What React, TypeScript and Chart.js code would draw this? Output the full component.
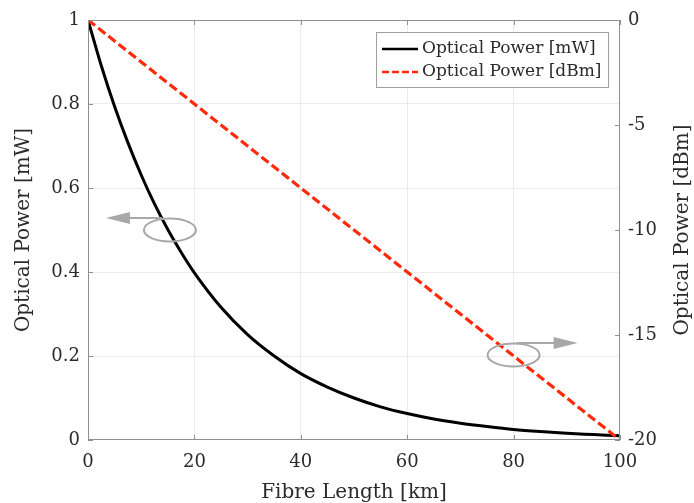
import React, { useEffect, useRef } from "react";
import { Chart, registerables } from "chart.js";

Chart.register(...registerables);

// ---- data ----
const lengthKm = [0, 2.5, 5, 7.5, 10, 12.5, 15, 17.5, 20, 25, 30, 35, 40, 45, 50, 55, 60, 65, 70, 75, 80, 85, 90, 95, 100];
const powerMw = [1.0, 0.891, 0.794, 0.708, 0.631, 0.562, 0.501, 0.447, 0.398, 0.316, 0.251, 0.2, 0.158, 0.126, 0.1, 0.079, 0.063, 0.05, 0.04, 0.032, 0.025, 0.02, 0.016, 0.013, 0.01];
const powerDbm = [0, -0.5, -1, -1.5, -2, -2.5, -3, -3.5, -4, -5, -6, -7, -8, -9, -10, -11, -12, -13, -14, -15, -16, -17, -18, -19, -20];
const xTicksKm = [0, 20, 40, 60, 80, 100];
const leftTicksMw = [0, 0.2, 0.4, 0.6, 0.8, 1];
const rightTicksDbm = [-20, -15, -10, -5, 0];
const labelMw = "Optical Power [mW]";
const labelDbm = "Optical Power [dBm]";
const labelX = "Fibre Length [km]";

const FONT = "'DejaVu Serif', serif";
const TEXT = "#2b2b2b";
const AXIS = "#8f8f8f";
const GRID = "#ebebeb";
const RED = "#ff2a0a";
const ANN = "#a8a8a8";

const decorPlugin = {
  id: "decor",
  afterDatasetsDraw(chart: any) {
    const ctx = chart.ctx;
    const { left, right, top, bottom } = chart.chartArea;
    const xs = chart.scales.x;
    const yl = chart.scales.y;
    const yr = chart.scales.y1;
    ctx.save();
    // box
    ctx.strokeStyle = AXIS;
    ctx.lineWidth = 1;
    ctx.strokeRect(left + 0.5, top + 0.5, right - left - 1, bottom - top - 1);
    // inward ticks
    const tl = 5;
    ctx.beginPath();
    xTicksKm.forEach((v) => {
      const px = Math.round(xs.getPixelForValue(v)) + 0.5;
      ctx.moveTo(px, bottom);
      ctx.lineTo(px, bottom - tl);
      ctx.moveTo(px, top);
      ctx.lineTo(px, top + tl);
    });
    leftTicksMw.forEach((v) => {
      const py = Math.round(yl.getPixelForValue(v)) + 0.5;
      ctx.moveTo(left, py);
      ctx.lineTo(left + tl, py);
    });
    rightTicksDbm.forEach((v) => {
      const py = Math.round(yr.getPixelForValue(v)) + 0.5;
      ctx.moveTo(right, py);
      ctx.lineTo(right - tl, py);
    });
    ctx.stroke();

    // annotations: ellipse + arrow
    const drawAnn = (cx: number, cy: number, dir: number, startDx: number) => {
      ctx.strokeStyle = ANN;
      ctx.fillStyle = ANN;
      ctx.lineWidth = 2;
      ctx.beginPath();
      ctx.ellipse(cx, cy, 26, 11.5, 0, 0, Math.PI * 2);
      ctx.stroke();
      const ay = cy - 12;
      ctx.beginPath();
      ctx.moveTo(cx + startDx, ay);
      ctx.lineTo(cx + dir * 42, ay);
      ctx.stroke();
      ctx.beginPath();
      ctx.moveTo(cx + dir * 40, ay - 6);
      ctx.lineTo(cx + dir * 64, ay);
      ctx.lineTo(cx + dir * 40, ay + 6);
      ctx.closePath();
      ctx.fill();
    };
    drawAnn(xs.getPixelForValue(15.4), yl.getPixelForValue(0.5), -1, -8);
    drawAnn(xs.getPixelForValue(80), yr.getPixelForValue(-15.95), 1, 3);

    // axis titles
    ctx.fillStyle = TEXT;
    ctx.font = `20px ${FONT}`;
    ctx.textAlign = "center";
    ctx.textBaseline = "middle";
    const cyMid = (top + bottom) / 2;
    ctx.save();
    ctx.translate(24, cyMid);
    ctx.rotate(-Math.PI / 2);
    ctx.fillText(labelMw, 0, 0);
    ctx.restore();
    ctx.save();
    ctx.translate(683, cyMid);
    ctx.rotate(-Math.PI / 2);
    ctx.fillText(labelDbm, 0, 0);
    ctx.restore();
    ctx.textBaseline = "alphabetic";
    ctx.fillText(labelX, (left + right) / 2, 498);

    // legend
    const lx = 376, ly = 32, lw = 233, lh = 56;
    ctx.fillStyle = "#ffffff";
    ctx.fillRect(lx, ly, lw, lh);
    ctx.strokeStyle = "#a0a0a0";
    ctx.lineWidth = 1;
    ctx.strokeRect(lx + 0.5, ly + 0.5, lw - 1, lh - 1);
    const rows = [
      { label: labelMw, color: "#000000", dash: [] as number[] },
      { label: labelDbm, color: RED, dash: [7, 3] },
    ];
    rows.forEach((r, i) => {
      const yy = ly + 17 + i * 23;
      ctx.strokeStyle = r.color;
      ctx.lineWidth = 2.5;
      ctx.setLineDash(r.dash);
      ctx.beginPath();
      ctx.moveTo(382, yy);
      ctx.lineTo(418, yy);
      ctx.stroke();
      ctx.setLineDash([]);
      ctx.fillStyle = TEXT;
      ctx.font = `17px ${FONT}`;
      ctx.textAlign = "left";
      ctx.textBaseline = "middle";
      ctx.fillText(r.label, 422, yy);
    });
    ctx.restore();
  },
};

export default function App() {
  const ref = useRef<HTMLCanvasElement | null>(null);
  useEffect(() => {
    if (!ref.current) return;
    const tickFont = { family: FONT, size: 18 };
    const chart = new Chart(ref.current, {
      type: "line",
      data: {
        datasets: [
          {
            label: labelMw,
            data: lengthKm.map((x, i) => ({ x, y: powerMw[i] })),
            borderColor: "#000000",
            borderWidth: 3,
            pointRadius: 0,
            cubicInterpolationMode: "monotone",
            yAxisID: "y",
            order: 2,
          },
          {
            label: labelDbm,
            data: lengthKm.map((x, i) => ({ x, y: powerDbm[i] })),
            borderColor: RED,
            borderWidth: 3.2,
            borderDash: [9, 4],
            pointRadius: 0,
            yAxisID: "y1",
            order: 1,
          },
        ],
      },
      options: {
        animation: false,
        responsive: false,
        layout: { padding: { top: 20, left: 0, right: 0, bottom: 0 } },
        plugins: { legend: { display: false }, tooltip: { enabled: false } },
        scales: {
          x: {
            type: "linear",
            min: 0,
            max: 100,
            afterBuildTicks: (s: any) => { s.ticks = xTicksKm.map((v) => ({ value: v })); },
            afterFit: (s: any) => { s.height = 63; },
            grid: { color: (c: any) => (c.tick && (c.tick.value === 0 || c.tick.value === 100) ? "rgba(0,0,0,0)" : GRID), drawTicks: false },
            border: { display: false },
            ticks: { font: tickFont, color: TEXT, padding: 12, maxRotation: 0 },
          },
          y: {
            type: "linear",
            position: "left",
            min: 0,
            max: 1,
            afterBuildTicks: (s: any) => { s.ticks = leftTicksMw.map((v) => ({ value: v })); },
            afterFit: (s: any) => { s.width = 88; },
            grid: { color: (c: any) => (c.tick && (c.tick.value === 0 || c.tick.value === 1) ? "rgba(0,0,0,0)" : GRID), drawTicks: false },
            border: { display: false },
            ticks: { font: tickFont, color: TEXT, padding: 8, callback: (v: any) => String(v) },
          },
          y1: {
            type: "linear",
            position: "right",
            min: -20,
            max: 0,
            afterBuildTicks: (s: any) => { s.ticks = rightTicksDbm.map((v) => ({ value: v })); },
            afterFit: (s: any) => { s.width = 74; },
            grid: { display: false, drawTicks: false },
            border: { display: false },
            ticks: { font: tickFont, color: TEXT, padding: 8, callback: (v: any) => String(v) },
          },
        },
      },
      plugins: [decorPlugin],
    } as any);
    return () => chart.destroy();
  }, []);
  return (
    <div style={{ position: "fixed", left: 0, top: 0, width: 694, height: 503, background: "#fff" }}>
      <canvas ref={ref} width={694} height={503} style={{ display: "block" }} />
    </div>
  );
}
